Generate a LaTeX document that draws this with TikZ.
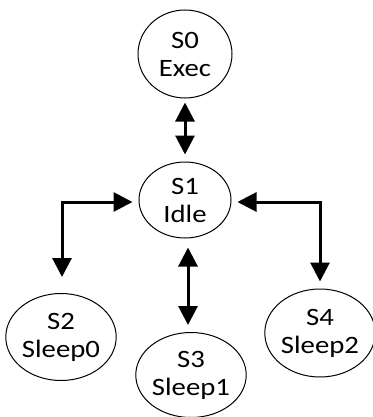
\documentclass[tikz,border=0pt]{standalone}
\usepackage{fontspec}
\setmainfont{Carlito}[FakeStretch=1.15]
\usetikzlibrary{shapes.geometric,arrows.meta}

\def\tipSize{19pt}

\begin{document}
\begin{tikzpicture}[x=1pt,y=-1pt]
    \useasboundingbox (0,0) rectangle (372,417);
    \begin{scope}[font=\fontsize{25}{28}\selectfont]
        \tikzset{state/.style={draw,ellipse,line width=1pt,inner sep=0pt,align=center}}

        \node [state,minimum width=94pt,minimum height=88pt] (s0) at (185,54)  {S0\\Exec};
        \node [state,minimum width=92pt,minimum height=76pt] (s1) at (185,200) {S1\\Idle};
        \node [state,minimum width=104pt,minimum height=87pt] (s2) at (61,337) {S2\\Sleep0};
        \node [state,minimum width=102pt,minimum height=85pt] (s3) at (191,375) {S3\\Sleep1};
        \node [state,minimum width=100pt,minimum height=88pt] (s4) at (320,333) {S4\\Sleep2};
    \end{scope}

    \begin{scope}[line width=3pt,{Triangle[length=\tipSize,width=\tipSize]}-{Triangle[length=\tipSize,width=\tipSize]}]
        \draw [shorten <=4pt,shorten >=7pt] (s0.south) -- (s1.north);
        \draw [shorten <=9pt,shorten >=7pt] ([xshift=3pt]s1.south) -- ([xshift=-3pt]s3.north);
        \draw [shorten <=6pt,shorten >=16pt] ([yshift=-2pt]s1.west) -| ([xshift=1pt]s2.north);
        \draw [shorten <=6pt,shorten >=7pt] ([yshift=-2pt]s1.east) -| (s4.north);
    \end{scope}
\end{tikzpicture}
\end{document}
